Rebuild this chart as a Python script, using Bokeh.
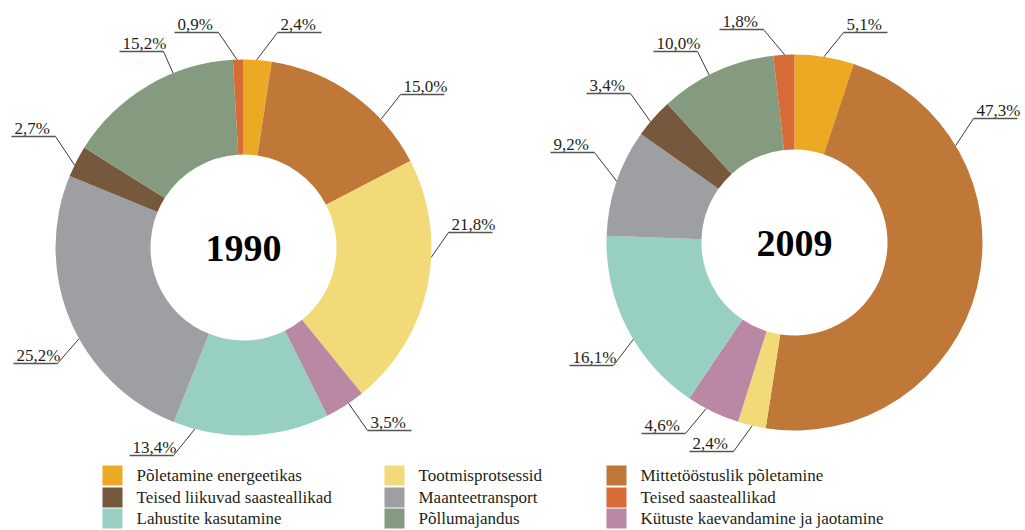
import math
from bokeh.plotting import figure
from bokeh.models import Range1d, ColumnDataSource
from bokeh.embed import file_html
from bokeh.resources import INLINE
from bokeh.core.properties import value

# ---------------- data ----------------
categories = [
    "Põletamine  energeetikas",
    "Mittetööstuslik  põletamine",
    "Tootmisprotsessid",
    "Kütuste kaevandamine ja jaotamine",
    "Lahustite kasutamine",
    "Maanteetransport",
    "Teised liikuvad saasteallikad",
    "Põllumajandus",
    "Teised saasteallikad",
]
values_1990 = [2.4, 15.0, 21.8, 3.5, 13.4, 25.2, 2.7, 15.2, 0.9]
values_2009 = [5.1, 47.3, 2.4, 4.6, 16.1, 9.2, 3.4, 10.0, 1.8]
years = ["1990", "2009"]

colors = ["#EBA924", "#BF7838", "#F3DA78", "#BA87A5", "#97D0C2",
          "#9E9FA2", "#76583C", "#859B7F", "#D66B36"]
legend_order = [0, 2, 1, 6, 5, 8, 4, 7, 3]

# ---------------- layout (pixel coordinates of the page) ----------------
W, H = 1024, 529
def Y(py):
    return H - py

centers = [(243, 247), (794, 242)]
year_center = [247.5, 242.5]
R_OUT, R_IN = 188, 93
UL = 44

# per slice: leader angle (deg clockwise from top), leader end point, side
label_layout = [
    [(4, 277, 32, 1), (47, 400, 94, 1), (93, 448, 232, 1), (146, 367, 430, 1),
     (195, 173, 455, -1), (241, 57, 363, -1), (296, 55, 136, -1),
     (338, 163, 51, -1), (358, 218, 32, -1)],
    [(9, 843, 32, 1), (59, 973, 118, 1), (193, 733, 451, -1), (208, 685, 433, -1),
     (239, 613, 365, -1), (289, 594, 152, -1), (310, 630, 93, -1),
     (333, 697, 51, -1), (357, 763, 29, -1)],
]

legend_cols = [102, 384, 606]
legend_rows = [475, 497, 518]
SQ = 20

TEXT_COLOR = "#231f20"
FONT = "Liberation Serif"

p = figure(width=W, height=H, x_range=Range1d(0, W), y_range=Range1d(0, H),
           output_backend="svg", toolbar_location=None, min_border=0,
           min_border_left=0, min_border_right=0, min_border_top=0, min_border_bottom=0)
p.axis.visible = False
p.grid.visible = False
p.outline_line_color = None
p.background_fill_color = "white"
p.border_fill_color = "white"

def fmt(v):
    return ("%.1f" % v).replace(".", ",") + "%"

for k, vals in enumerate([values_1990, values_2009]):
    cx, cy = centers[k]
    total = sum(vals)
    cum = [0.0]
    for v in vals:
        cum.append(cum[-1] + v / total)
    starts = [math.pi / 2 - 2 * math.pi * cum[i + 1] for i in range(len(vals))]
    ends = [math.pi / 2 - 2 * math.pi * cum[i] for i in range(len(vals))]
    src = ColumnDataSource(dict(x=[cx] * len(vals), y=[Y(cy)] * len(vals),
                                start=starts, end=ends, color=colors))
    p.annular_wedge(x="x", y="y", inner_radius=R_IN, outer_radius=R_OUT,
                    start_angle="start", end_angle="end", color="color",
                    line_color=None, source=src)

    # labels
    lx0, ly0, lx1, ly1 = [], [], [], []
    ux0, ux1, uy = [], [], []
    tx, ty, tt = [], [], []
    for i, v in enumerate(vals):
        ang, ex, ey, side = label_layout[k][i]
        a = math.radians(ang)
        sx = cx + R_OUT * math.sin(a)
        sy = cy - R_OUT * math.cos(a)
        lx0.append(sx); ly0.append(Y(sy)); lx1.append(ex); ly1.append(Y(ey))
        if side > 0:
            a0, a1 = ex, ex + UL
        else:
            a0, a1 = ex - UL, ex
        ux0.append(a0); ux1.append(a1); uy.append(Y(ey))
        tx.append(a0 + 3); ty.append(Y(ey - 8)); tt.append(fmt(v))
    p.segment(x0=lx0, y0=ly0, x1=lx1, y1=ly1, line_color="#3a3a3a", line_width=1)
    p.segment(x0=ux0, y0=uy, x1=ux1, y1=uy, line_color="#555555", line_width=1.5)
    p.text(x=tx, y=ty, text=tt, text_font=value(FONT), text_font_size="17px",
           text_color=TEXT_COLOR, text_align="left", text_baseline="middle")

    p.text(x=[cx], y=[Y(year_center[k])], text=[years[k]], text_font=value(FONT),
           text_font_size="38px", text_font_style="bold", text_color="#000000",
           text_align="center", text_baseline="middle")

# legend
lgx, lgy, lgc, ltx, lty, ltt = [], [], [], [], [], []
for n, idx in enumerate(legend_order):
    r, c = divmod(n, 3)
    lgx.append(legend_cols[c] + SQ / 2)
    lgy.append(Y(legend_rows[r]))
    lgc.append(colors[idx])
    ltx.append(legend_cols[c] + 34)
    lty.append(Y(legend_rows[r]))
    ltt.append(categories[idx])
p.rect(x=lgx, y=lgy, width=SQ, height=SQ, color=lgc, line_color=None)
p.text(x=ltx, y=lty, text=ltt, text_font=value(FONT), text_font_size="17px",
       text_color=TEXT_COLOR, text_align="left", text_baseline="middle")

open("out.html", "w").write(file_html(p, INLINE))
